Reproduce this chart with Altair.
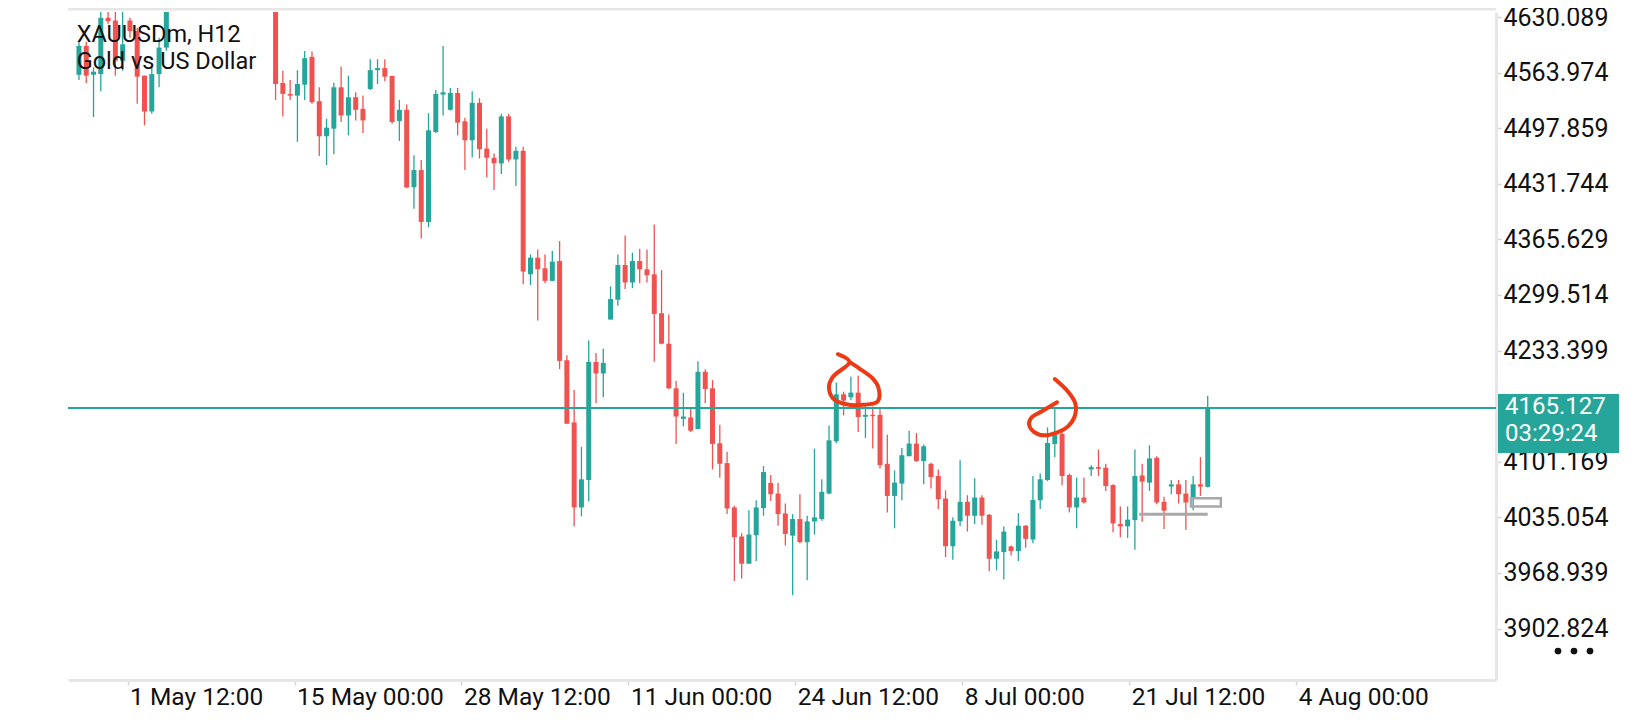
import altair as alt
import pandas as pd

TEAL = "#26a69a"
RED = "#ef5350"
GRID = "#e6e6e6"
ANN = "#eb3a14"

# ---- candle data (H12 bars, index 0 = first visible bar) ----
opens = [4561.4, 4595.7, 4561.4, 4562.2, 4629.1, 4625.9, 4578.0, 4625.9, 4613.4, 4560.3,
         4517.8, 4562.2, 4593.7, 4655, 4672, 4660, 4690, 4700, 4685, 4705,
         4690, 4668, 4680, 4662, 4676, 4695, 4684, 4668, 4551.6, 4538.6,
         4536.6, 4549.6, 4582.7, 4530.0, 4488.3, 4497.3, 4546.5, 4513.0, 4534.7, 4520.9,
         4544.5, 4566.9, 4569.3, 4559.9, 4506.4, 4519.7, 4427.7, 4448.1, 4386.4, 4493.4,
         4537.8, 4519.7, 4539.8, 4506.0, 4483.5, 4528.0, 4473.7, 4462.7, 4456.0, 4511.9,
         4460.7, 4471.0, 4324.2, 4343.9, 4331.3, 4316.3, 4339.9, 4221.9, 4148.0, 4046.9,
         4079.5, 4219.9, 4206.2, 4270.3, 4293.9, 4335.2, 4314.4, 4339.9, 4330.1, 4324.2,
         4277.8, 4241.6, 4188.5, 4152.3, 4153.9, 4140.1, 4208.2, 4188.5, 4123.2, 4099.6,
         4046.9, 4012.3, 3980.0, 4013.8, 4046.1, 4076.0, 4063.4, 4039.8, 4013.4, 4033.1,
         4005.6, 4030.3, 4033.1, 4063.4, 4125.5, 4181.4, 4177.9, 4183.4, 4154.7, 4157.0,
         4157.0, 4098.8, 4060.6, 4075.2, 4107.8, 4122.8, 4102.0, 4098.8, 4084.3, 4057.5,
         4000.8, 4030.4, 4053.6, 4037.0, 4058.7, 4038.2, 3985.9, 3993.8, 4000.5, 3995.0,
         4025.2, 4008.7, 4055.5, 4079.5, 4122.4, 4134.2, 4085.4, 4046.9, 4058.7, 4092.1,
         4094.9, 4094.1, 4073.6, 4027.2, 4024.4, 4031.9, 4085.0, 4076.4, 4105.9, 4053.6,
         4071.8, 4074.4, 4063.4, 4058.7, 4074.4, 4071.3]
highs = [4600.8, 4600.8, 4570.1, 4640.1, 4640.1, 4637.0, 4640.1, 4629.1, 4617.3, 4560.3,
         4572.1, 4605.5, 4662.0, 4680, 4685, 4698, 4712, 4708, 4716, 4712,
         4696, 4690, 4686, 4684, 4702, 4700, 4690, 4675, 4566.2, 4555.1,
         4566.9, 4589.7, 4589.0, 4546.5, 4509.1, 4552.0, 4570.9, 4560.3, 4540.6, 4536.6,
         4579.9, 4579.9, 4579.9, 4560.3, 4531.5, 4526.0, 4465.8, 4459.9, 4515.8, 4543.3,
         4595.7, 4545.7, 4545.7, 4510.3, 4541.8, 4533.5, 4497.3, 4467.8, 4515.0, 4515.0,
         4475.7, 4475.7, 4347.8, 4353.7, 4347.8, 4351.8, 4363.6, 4227.8, 4186.5, 4118.9,
         4245.5, 4230.6, 4235.7, 4309.7, 4347.8, 4370.2, 4349.8, 4354.5, 4353.7, 4383.2,
         4329.3, 4276.2, 4197.1, 4183.4, 4164.9, 4220.7, 4211.3, 4198.3, 4145.2, 4113.0,
         4048.8, 4016.2, 4043.7, 4055.5, 4096.0, 4085.4, 4076.4, 4051.6, 4039.0, 4062.6,
         4037.0, 4116.9, 4080.3, 4144.4, 4195.6, 4184.6, 4202.3, 4203.4, 4168.8, 4166.9,
         4165.7, 4133.4, 4090.9, 4117.7, 4138.1, 4135.4, 4121.6, 4100.0, 4092.1, 4067.3,
         4035.1, 4103.1, 4061.4, 4081.5, 4061.4, 4039.0, 4008.3, 4024.1, 4001.6, 4040.2,
         4026.0, 4084.3, 4087.4, 4142.1, 4164.9, 4139.3, 4087.0, 4082.3, 4082.3, 4097.2,
         4115.7, 4098.8, 4074.4, 4048.1, 4048.1, 4115.7, 4098.8, 4120.8, 4107.8, 4059.5,
         4079.5, 4079.5, 4079.5, 4084.3, 4106.7, 4179.8]
lows = [4555.1, 4551.6, 4511.1, 4541.8, 4622.0, 4560.3, 4566.2, 4605.5, 4526.8, 4501.2,
        4515.0, 4546.5, 4590.0, 4650, 4655, 4657, 4682, 4676, 4680, 4680,
        4658, 4652, 4640.5, 4655, 4670, 4678, 4660, 4531.5, 4511.9, 4531.5,
        4481.6, 4531.5, 4526.8, 4464.7, 4454.0, 4467.0, 4505.2, 4489.4, 4507.1, 4492.2,
        4543.3, 4550.4, 4553.6, 4503.2, 4482.8, 4426.5, 4402.1, 4366.7, 4380.1, 4492.2,
        4513.0, 4518.9, 4489.4, 4448.1, 4463.1, 4461.9, 4439.5, 4424.5, 4443.4, 4457.9,
        4429.2, 4312.4, 4311.2, 4269.1, 4313.6, 4316.3, 4211.3, 4146.0, 4024.4, 4036.3,
        4053.9, 4170.8, 4177.9, 4270.3, 4286.8, 4306.5, 4307.7, 4313.6, 4314.4, 4220.0,
        4240.8, 4187.7, 4122.4, 4143.3, 4136.6, 4140.1, 4170.8, 4092.1, 4082.3, 4039.0,
        3959.5, 3962.3, 3980.0, 3983.1, 4037.0, 4054.7, 4025.2, 4001.6, 3942.6, 4004.4,
        3960.3, 4014.6, 4031.1, 4062.6, 4123.6, 4156.2, 4174.7, 4136.6, 4129.5, 4116.9,
        4093.3, 4041.0, 4022.1, 4055.5, 4107.8, 4101.2, 4074.4, 4069.3, 4044.9, 3987.9,
        3984.7, 4024.4, 4018.2, 4027.2, 4026.4, 3970.9, 3972.1, 3961.1, 3989.8, 3983.1,
        3998.9, 4004.4, 4044.9, 4078.3, 4106.7, 4073.2, 4041.0, 4022.1, 4051.6, 4084.3,
        4084.3, 4066.5, 4017.4, 4011.5, 4010.7, 3996.5, 4029.9, 4066.5, 4050.8, 4021.3,
        4062.6, 4051.6, 4020.1, 4043.7, 4060.6, 4070.5]
closes = [4595.7, 4560.3, 4565.0, 4629.1, 4625.2, 4578.0, 4597.6, 4613.4, 4559.1, 4517.8,
          4562.2, 4593.7, 4655.0, 4672, 4660, 4690, 4700, 4685, 4705, 4690,
          4668, 4680, 4662, 4676, 4695, 4684, 4668, 4550.4, 4538.6, 4536.6,
          4550.4, 4581.1, 4528.8, 4488.3, 4498.5, 4546.5, 4513.0, 4534.7, 4519.7, 4507.1,
          4566.9, 4569.3, 4559.1, 4505.2, 4519.7, 4427.3, 4448.1, 4386.4, 4495.3, 4538.6,
          4540.6, 4539.8, 4504.4, 4483.5, 4528.0, 4472.9, 4462.7, 4456.0, 4511.9, 4460.7,
          4471.0, 4327.4, 4343.9, 4330.1, 4316.3, 4339.2, 4221.1, 4146.4, 4046.9, 4080.3,
          4219.9, 4206.2, 4218.8, 4294.7, 4335.2, 4314.4, 4339.9, 4330.1, 4323.0, 4277.0,
          4241.6, 4188.5, 4155.0, 4155.0, 4138.1, 4208.2, 4187.7, 4122.4, 4098.8, 4045.7,
          4011.5, 3980.0, 4014.6, 4046.9, 4089.0, 4062.6, 4039.0, 4015.4, 4033.1, 4005.6,
          4030.3, 4035.1, 4065.4, 4126.7, 4181.4, 4173.9, 4183.4, 4154.3, 4157.0, 4155.4,
          4097.2, 4060.6, 4076.4, 4109.0, 4122.8, 4102.0, 4119.6, 4083.1, 4056.7, 4000.8,
          4031.1, 4053.6, 4037.0, 4058.7, 4037.0, 3985.9, 3994.6, 4018.2, 3995.0, 4025.2,
          4009.5, 4055.9, 4080.3, 4123.6, 4133.4, 4084.3, 4046.9, 4058.7, 4052.8, 4094.9,
          4092.9, 4072.4, 4028.0, 4024.4, 4032.3, 4084.3, 4077.6, 4105.1, 4052.8, 4043.0,
          4074.4, 4062.6, 4052.8, 4074.4, 4071.7, 4165.127]

current_price = 4165.127
countdown = "03:29:24"
title_lines = ["XAUUSDm, H12", "Gold vs US Dollar"]

ytick_vals = [4630.089, 4563.974, 4497.859, 4431.744, 4365.629, 4299.514,
              4233.399, 4101.169, 4035.054, 3968.939, 3902.824]
xtick_pos = [6.68, 29.60, 52.53, 75.45, 98.37, 121.29, 144.21, 167.14]
xtick_lbl = ["1 May 12:00", "15 May 00:00", "28 May 12:00", "11 Jun 00:00",
             "24 Jun 12:00", "8 Jul 00:00", "21 Jul 12:00", "4 Aug 00:00"]

# grey drawing objects
level_i = [145.6, 155.0]
level_p = [4038.8]
rect_i = [152.7, 156.8]
rect_p = [4048.0, 4057.9]

# hand-drawn red annotations
ann1_i = [104.22, 105.81, 103.54, 102.99, 103.54, 105.37, 107.63, 109.67, 109.81, 108.99, 107.18, 105.81]
ann1_p = [4229.1, 4220.0, 4202.3, 4190.5, 4176.7, 4169.6, 4168.9, 4172.8, 4188.5, 4200.3, 4212.1, 4220.0]
ann2_i = [134.0, 135.82, 136.81, 136.73, 135.82, 134.45, 132.64, 131.18, 130.46, 130.81, 132.17, 134.31]
ann2_p = [4199.6, 4184.6, 4170.8, 4155.1, 4143.3, 4136.5, 4132.6, 4136.5, 4146.0, 4153.9, 4161.0, 4171.9]

# ---- build tables ----
n = len(opens)
df = pd.DataFrame({
    "i": list(range(n)),
    "open": opens, "high": highs, "low": lows, "close": closes,
})
df["dir"] = ["up" if c >= o else "down" for o, c in zip(opens, closes)]

ann = pd.DataFrame({
    "i": ann1_i + ann2_i,
    "p": ann1_p + ann2_p,
    "shape": ["a"] * len(ann1_i) + ["b"] * len(ann2_i),
    "seq": list(range(len(ann1_i))) + list(range(len(ann2_i))),
})

W, H = 1428, 668
xs = alt.Scale(domain=[-0.818, 193.9], nice=False, zero=False)
ys = alt.Scale(domain=[3841.70, 4636.035], nice=False, zero=False)
cs = alt.Scale(domain=["up", "down"], range=[TEAL, RED])


def label_expr(pos, lbl):
    expr = f"'{lbl[-1]}'"
    for p, l in reversed(list(zip(pos[:-1], lbl[:-1]))):
        expr = f"datum.value < {p + 1} ? '{l}' : ({expr})"
    return expr


xaxis = alt.Axis(values=xtick_pos, labelExpr=label_expr(xtick_pos, xtick_lbl),
                 orient="bottom", title=None, grid=False,
                 labelAlign="left", labelBaseline="top", labelPadding=0, labelOffset=2,
                 labelFont="Roboto", labelFontSize=24.5, labelColor="#111111",
                 labelOverlap=False, labelFlush=False, labelBound=False,
                 tickSize=5, tickColor="#d4d4d4", tickWidth=1.5,
                 domainColor=GRID, domainWidth=3)
yaxis = alt.Axis(values=ytick_vals, labelExpr="format(datum.value, '.3f')",
                 orient="right", title=None, grid=False,
                 labelAlign="left", labelBaseline="middle", labelPadding=2,
                 labelFont="Roboto", labelFontSize=25, labelColor="#111111",
                 labelOverlap=False, labelFlush=False, labelBound=False,
                 tickSize=5, tickColor="#d4d4d4", tickWidth=1.5,
                 domainColor=GRID, domainWidth=3)


def X(field):
    return alt.X(field, scale=xs, axis=xaxis)


def Y(field):
    return alt.Y(field, scale=ys, axis=yaxis)


base = alt.Chart(df)
wicks = base.mark_rule(strokeWidth=1.3, clip=True).encode(
    x=X("i:Q"), y=Y("low:Q"), y2="high:Q",
    color=alt.Color("dir:N", scale=cs, legend=None),
)
bodies = base.mark_bar(size=5, clip=True).encode(
    x=X("i:Q"), y=Y("open:Q"), y2="close:Q",
    color=alt.Color("dir:N", scale=cs, legend=None),
)

one = pd.DataFrame({"a": [0]})

price_line = alt.Chart(pd.DataFrame({"p": [current_price]})).mark_rule(
    color=TEAL, strokeWidth=2).encode(y=Y("p:Q"))

level = alt.Chart(pd.DataFrame({"x1": [level_i[0]], "x2": [level_i[1]], "p": level_p})).mark_rule(
    color="#a8a8a8", strokeWidth=3, clip=True).encode(
    x=X("x1:Q"), x2="x2:Q", y=Y("p:Q"))

orect = alt.Chart(pd.DataFrame({"x1": [rect_i[0]], "x2": [rect_i[1]],
                                "p1": [rect_p[0]], "p2": [rect_p[1]]})).mark_rect(
    fillOpacity=0, stroke="#a8a8a8", strokeWidth=2.5).encode(
    x=X("x1:Q"), x2="x2:Q", y=Y("p1:Q"), y2="p2:Q")

annot = alt.Chart(ann).mark_line(color=ANN, strokeWidth=4, interpolate="catmull-rom",
                                 strokeCap="round", strokeJoin="round").encode(
    x=X("i:Q"), y=Y("p:Q"), detail="shape:N", order="seq:Q")

top_border = alt.Chart(one).mark_rule(color=GRID, strokeWidth=3).encode(
    x=alt.value(0), x2=alt.value(W), y=alt.value(-3))

t1 = alt.Chart(one).mark_text(align="left", baseline="alphabetic", font="Roboto",
                              fontSize=23.5, color="#111111").encode(
    x=alt.value(8.7), y=alt.value(29.7), text=alt.value(title_lines[0]))
t2 = alt.Chart(one).mark_text(align="left", baseline="alphabetic", font="Roboto",
                              fontSize=23.5, color="#111111").encode(
    x=alt.value(8.7), y=alt.value(57.3), text=alt.value(title_lines[1]))

pbox = alt.Chart(one).mark_rect(color=TEAL).encode(
    x=alt.value(W + 2), x2=alt.value(W + 123), y=alt.value(382), y2=alt.value(441))
ptxt = alt.Chart(one).mark_text(align="left", baseline="middle", font="Roboto",
                                fontSize=24, color="white").encode(
    x=alt.value(W + 9), y=alt.value(395), text=alt.value(f"{current_price:.3f}"))
ctxt = alt.Chart(one).mark_text(align="left", baseline="middle", font="Roboto",
                                fontSize=24, color="white").encode(
    x=alt.value(W + 9), y=alt.value(422), text=alt.value(countdown))

dots = [alt.Chart(one).mark_circle(size=45, color="#111111", opacity=1).encode(
    x=alt.value(dx), y=alt.value(639)) for dx in (W + 62, W + 78, W + 94)]

chart = alt.layer(
    wicks, bodies, price_line, level, orect, annot, top_border, t1, t2, pbox, ptxt, ctxt, *dots
).properties(
    width=W, height=H,
    padding={"left": 60, "top": 4, "right": 130, "bottom": 32},
    autosize=alt.AutoSizeParams(type="none"),
    background="white",
).configure_view(stroke=None)

chart.save("out.html", embed_options={"renderer": "svg", "actions": False})
